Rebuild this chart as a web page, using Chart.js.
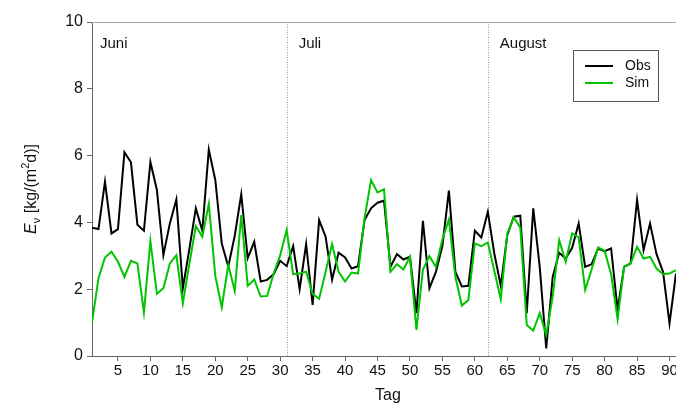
<!DOCTYPE html>
<html>
<head>
<meta charset="utf-8">
<script src="https://cdn.jsdelivr.net/npm/chart.js@4/dist/chart.umd.min.js"></script>
<style>
  html, body { margin: 0; padding: 0; background: #fff; }
  #wrap { width: 676px; height: 407px; position: relative; }
</style>
</head>
<body>
<div id="wrap"><canvas id="chart"></canvas></div>
<script>
// day of season (1 = 1. Juni)
const days = Array.from({ length: 91 }, (_, i) => i + 1);

const obs = [
  3.84, 3.80, 5.22, 3.67, 3.80, 6.10, 5.80, 3.93, 3.75, 5.81,
  4.97, 3.02, 3.97, 4.69, 2.03, 3.20, 4.42, 3.75, 6.18, 5.27,
  3.37, 2.68, 3.60, 4.84, 2.93, 3.42, 2.23, 2.28, 2.45, 2.85,
  2.69, 3.29, 2.00, 3.35, 1.53, 4.07, 3.57, 2.28, 3.09, 2.95,
  2.62, 2.69, 4.07, 4.42, 4.59, 4.65, 2.67, 3.05, 2.89, 2.97,
  1.28, 4.05, 2.03, 2.52, 3.29, 4.95, 2.52, 2.08, 2.10, 3.75,
  3.55, 4.32, 3.07, 2.10, 3.62, 4.17, 4.20, 1.28, 4.42, 2.67,
  0.23, 2.37, 3.09, 2.92, 3.24, 3.97, 2.67, 2.75, 3.22, 3.14,
  3.22, 1.38, 2.67, 2.77, 4.67, 3.17, 3.97, 3.05, 2.52, 0.98,
  2.47
];

const sim = [
  1.00, 2.33, 2.95, 3.12, 2.82, 2.37, 2.85, 2.77, 1.30, 3.44,
  1.86, 2.03, 2.77, 3.02, 1.58, 2.75, 3.89, 3.57, 4.56, 2.40,
  1.46, 2.73, 1.95, 4.22, 2.10, 2.29, 1.78, 1.80, 2.47, 3.02,
  3.77, 2.45, 2.47, 2.52, 1.86, 1.71, 2.52, 3.35, 2.52, 2.23,
  2.50, 2.47, 4.12, 5.27, 4.90, 4.99, 2.52, 2.75, 2.59, 2.97,
  0.78, 2.59, 2.99, 2.67, 3.49, 4.09, 2.37, 1.51, 1.68, 3.37,
  3.29, 3.40, 2.55, 1.70, 3.67, 4.15, 3.85, 0.93, 0.76, 1.28,
  0.63, 1.78, 3.47, 2.82, 3.67, 3.55, 1.98, 2.59, 3.25, 3.15,
  2.45, 1.10, 2.67, 2.77, 3.27, 2.92, 2.97, 2.62, 2.45, 2.47,
  2.57
];

const xTicks = [5, 10, 15, 20, 25, 30, 35, 40, 45, 50, 55, 60, 65, 70, 75, 80, 85, 90];
const yTicks = [0, 2, 4, 6, 8, 10];
const months = ['Juni', 'Juli', 'August'];
const monthStarts = [1, 31, 62];

const FONT = '"Liberation Sans", Arial, sans-serif';
const axisColor = '#666';

const toPoints = (vals) => vals.map((v, i) => ({ x: days[i], y: v }));

// month separators, labels, frame, legend and axis titles
const decorations = {
  id: 'decorations',
  beforeDatasetsDraw(chart) {
    const { ctx, chartArea, scales } = chart;
    ctx.save();
    // top frame line
    ctx.strokeStyle = '#a8a8a8';
    ctx.lineWidth = 1;
    ctx.beginPath();
    ctx.moveTo(chartArea.left, chartArea.top + 0.5);
    ctx.lineTo(chartArea.right, chartArea.top + 0.5);
    ctx.stroke();
    // dotted month separators
    ctx.strokeStyle = '#999';
    ctx.setLineDash([1, 1.5]);
    monthStarts.slice(1).forEach(d => {
      const px = Math.round(scales.x.getPixelForValue(d)) + 0.5;
      ctx.beginPath();
      ctx.moveTo(px, chartArea.top);
      ctx.lineTo(px, chartArea.bottom);
      ctx.stroke();
    });
    ctx.setLineDash([]);
    // month labels
    ctx.fillStyle = '#111';
    ctx.font = '15px ' + FONT;
    ctx.textAlign = 'left';
    ctx.textBaseline = 'middle';
    months.forEach((m, i) => {
      const px = scales.x.getPixelForValue(monthStarts[i]) + (i === 0 ? 8 : 12);
      ctx.fillText(m, px, chartArea.top + 22);
    });
    ctx.restore();
  },
  afterDraw(chart) {
    const { ctx, chartArea } = chart;
    ctx.save();
    // legend box
    const bx = 573.5, by = 50.5, bw = 85, bh = 51;
    ctx.fillStyle = '#fff';
    ctx.fillRect(bx, by, bw, bh);
    ctx.strokeStyle = '#555';
    ctx.lineWidth = 1;
    ctx.strokeRect(bx, by, bw, bh);
    ctx.font = '14px ' + FONT;
    ctx.textAlign = 'left';
    ctx.textBaseline = 'middle';
    chart.data.datasets.forEach((ds, i) => {
      const ly = 66 + i * 17;
      ctx.strokeStyle = ds.borderColor;
      ctx.lineWidth = 2;
      ctx.beginPath();
      ctx.moveTo(585, ly);
      ctx.lineTo(613, ly);
      ctx.stroke();
      ctx.fillStyle = '#111';
      ctx.fillText(ds.label, 625, ly);
    });

    // x axis title
    ctx.font = '16px ' + FONT;
    ctx.textAlign = 'center';
    ctx.fillStyle = '#111';
    ctx.fillText('Tag', (chartArea.left + chartArea.right) / 2 + 4, 396);

    // y axis title: E_v [kg/(m^2 d)]
    const parts = [
      { t: 'E', f: 'italic 16px ' + FONT, dy: 0 },
      { t: 'ν', f: '11px ' + FONT, dy: 4 },
      { t: ' [kg/(m', f: '16px ' + FONT, dy: 0 },
      { t: '2', f: '11px ' + FONT, dy: -7 },
      { t: 'd)]', f: '16px ' + FONT, dy: 0 }
    ];
    let total = 0;
    parts.forEach(p => { ctx.font = p.f; p.w = ctx.measureText(p.t).width; total += p.w; });
    ctx.translate(31, (chartArea.top + chartArea.bottom) / 2);
    ctx.rotate(-Math.PI / 2);
    ctx.textAlign = 'left';
    ctx.textBaseline = 'alphabetic';
    let cx = -total / 2;
    parts.forEach(p => {
      ctx.font = p.f;
      ctx.fillText(p.t, cx, 5 + p.dy);
      cx += p.w;
    });
    ctx.restore();
  }
};

new Chart(document.getElementById('chart'), {
  type: 'line',
  data: {
    datasets: [
      {
        label: 'Obs',
        data: toPoints(obs),
        borderColor: '#000000',
        borderWidth: 2,
        pointRadius: 0,
        tension: 0,
        order: 2
      },
      {
        label: 'Sim',
        data: toPoints(sim),
        borderColor: '#00c400',
        borderWidth: 2,
        pointRadius: 0,
        tension: 0,
        order: 1
      }
    ]
  },
  options: {
    responsive: true,
    maintainAspectRatio: false,
    animation: false,
    events: [],
    layout: {
      padding: { top: 22, right: 0, left: 0, bottom: 0 }
    },
    plugins: {
      legend: { display: false },
      tooltip: { enabled: false }
    },
    scales: {
      x: {
        type: 'linear',
        min: 1,
        max: 91,
        border: { display: true, color: axisColor, width: 1 },
        grid: { drawOnChartArea: false, drawTicks: true, tickLength: 5, color: axisColor },
        afterBuildTicks: (scale) => {
          scale.ticks = xTicks.map(v => ({ value: v }));
        },
        afterFit: (scale) => {
          scale.height = 51;
          scale.paddingLeft = 0;
          scale.paddingRight = 0;
        },
        ticks: {
          autoSkip: false,
          maxRotation: 0,
          padding: 1,
          color: '#111',
          font: { family: FONT, size: 15 }
        }
      },
      y: {
        min: 0,
        max: 10,
        border: { display: true, color: axisColor, width: 1 },
        grid: { drawOnChartArea: false, drawTicks: true, tickLength: 5, color: axisColor },
        afterBuildTicks: (scale) => {
          scale.ticks = yTicks.map(v => ({ value: v }));
        },
        afterFit: (scale) => {
          scale.width = 92;
          scale.paddingTop = 0;
          scale.paddingBottom = 0;
        },
        ticks: {
          padding: 4,
          color: '#111',
          font: { family: FONT, size: 16 }
        }
      }
    }
  },
  plugins: [decorations]
});
</script>
</body>
</html>
